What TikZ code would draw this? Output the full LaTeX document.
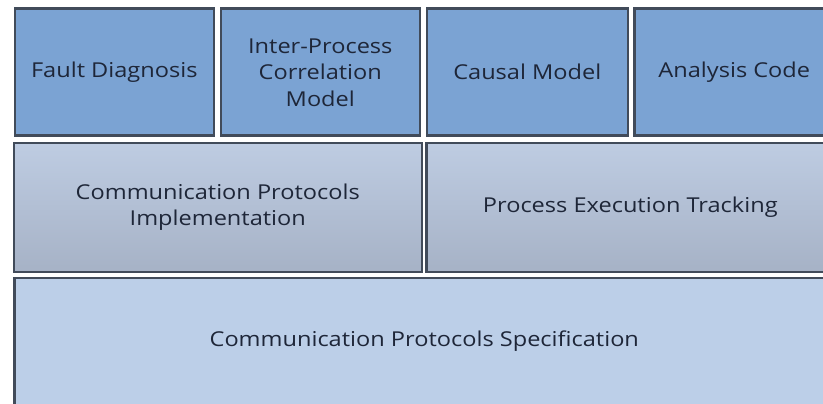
\documentclass[tikz,border=0pt]{standalone}
\usepackage{fontspec}
\setmainfont{Open Sans}[FakeStretch=1.15]

\definecolor{edge}{HTML}{414B5A}
\definecolor{ink}{HTML}{1E2638}
\definecolor{topblue}{HTML}{7BA3D3}
\definecolor{midtop}{HTML}{BECCE2}
\definecolor{midbot}{HTML}{A6B2C6}
\definecolor{baseblue}{HTML}{BCCFE8}

\tikzset{
  layer/.style={draw=edge, line width=2.6pt, anchor=north west, inner sep=0pt,
    align=center, text=ink, font=\fontsize{20.5}{26.5}\selectfont},
  toprow/.style={layer, fill=topblue, minimum height=127pt},
  midrow/.style={layer, top color=midtop, bottom color=midbot, minimum height=129pt},
  baserow/.style={layer, fill=baseblue, minimum height=127pt}
}

\begin{document}
\begin{tikzpicture}[x=1pt, y=-1pt]
    % Fix the page size
    \clip (0,0) rectangle (823,404);
    \fill[white] (0,0) rectangle (823,404);

    % Top row of layers
    \node[toprow, minimum width=199pt] (fault) at (13.5,7.5) {Fault Diagnosis};
    \node[toprow, minimum width=199pt] (corr) at (219.5,7.5) {Inter-Process\\Correlation\\Model};
    \node[toprow, minimum width=201pt] (causal) at (425.5,7.5) {Causal Model};
    \node[toprow, minimum width=200pt] (code) at (633,7.5) {Analysis Code};

    % Middle row of layers
    \node[midrow, minimum width=408pt] (impl) at (12.5,141.5) {Communication Protocols\\Implementation};
    \node[midrow, minimum width=408pt] (track) at (425,141.5) {Process Execution Tracking};

    % Bottom layer
    \node[baserow, minimum width=820pt] (spec) at (13,276.5) {Communication Protocols Specification};
\end{tikzpicture}
\end{document}
